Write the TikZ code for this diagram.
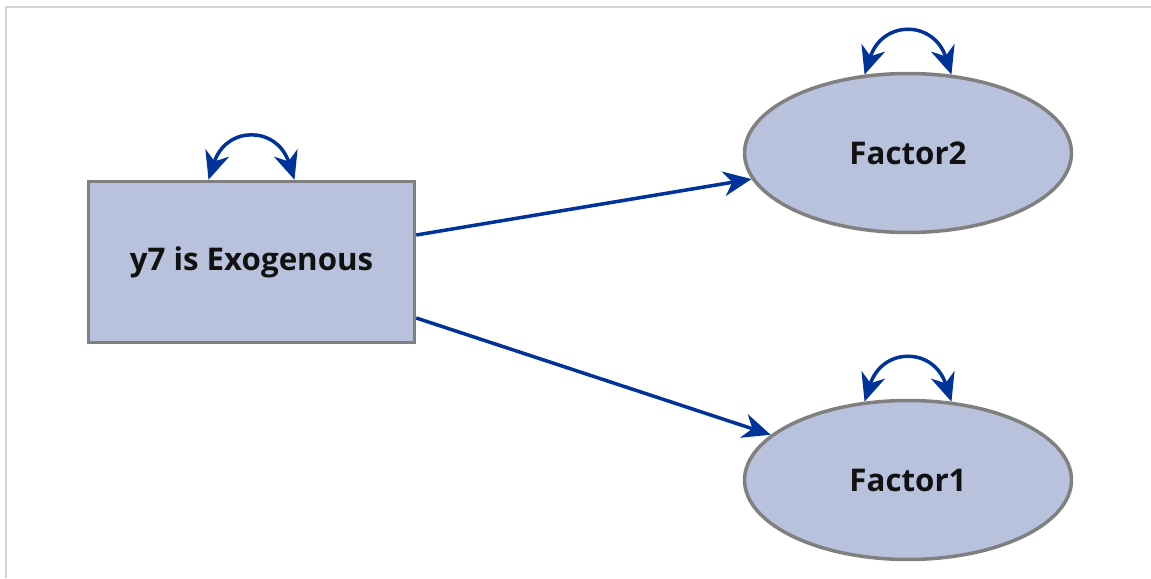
\documentclass[tikz,border=0pt]{standalone}
\usepackage{fontspec}
\setmainfont{Open Sans}
\usetikzlibrary{shapes.geometric, arrows.meta}

\definecolor{nodefill}{RGB}{185,194,220}
\definecolor{nodeline}{RGB}{128,128,128}
\definecolor{pathblue}{RGB}{0,51,153}
\definecolor{framegray}{RGB}{212,212,212}
\definecolor{labelblack}{RGB}{17,17,17}

\tikzset{
  manifest/.style={rectangle, draw=nodeline, fill=nodefill, line width=2pt,
    minimum width=6.52cm, minimum height=3.22cm, text=labelblack,
    font=\fontsize{17.8}{21}\selectfont\bfseries},
  latent/.style={ellipse, draw=nodeline, fill=nodefill, line width=2pt,
    minimum width=6.54cm, minimum height=3.18cm, inner sep=0pt, text=labelblack,
    font=\fontsize{17.8}{21}\selectfont\bfseries},
  path/.style={draw=pathblue, line width=2pt,
    -{Stealth[length=16pt,width=14pt,inset=5pt]}},
  variance/.style={draw=pathblue, line width=2pt,
    {Stealth[length=16pt,width=14pt,inset=5pt]}-{Stealth[length=16pt,width=14pt,inset=5pt]}}
}

\begin{document}
\begin{tikzpicture}[x=0.02cm, y=0.02cm]

\useasboundingbox (0,0) rectangle (1151,578);

% Frame
\draw[framegray, line width=1pt] (6,0) -- (6,571) -- (1151,571);

% Variables
\node[manifest] (exo) at (251.5,316) {y7 is Exogenous};
\node[latent] (f2) at (908,425) {Factor2};
\node[latent] (f1) at (908,98) {Factor1};

% Paths
\draw[path] ([yshift=0.54cm]exo.east) -- (f2);
\draw[path] ([yshift=-1.12cm]exo.east) -- (f1);

% Variances
\draw[variance] ([xshift=-0.86cm]exo.north) to[out=72, in=108, looseness=1.7] ([xshift=0.86cm]exo.north);
\draw[variance] (f2.119) to[out=72, in=108, looseness=1.7] (f2.61);
\draw[variance] (f1.119) to[out=72, in=108, looseness=1.7] (f1.61);

\end{tikzpicture}
\end{document}
